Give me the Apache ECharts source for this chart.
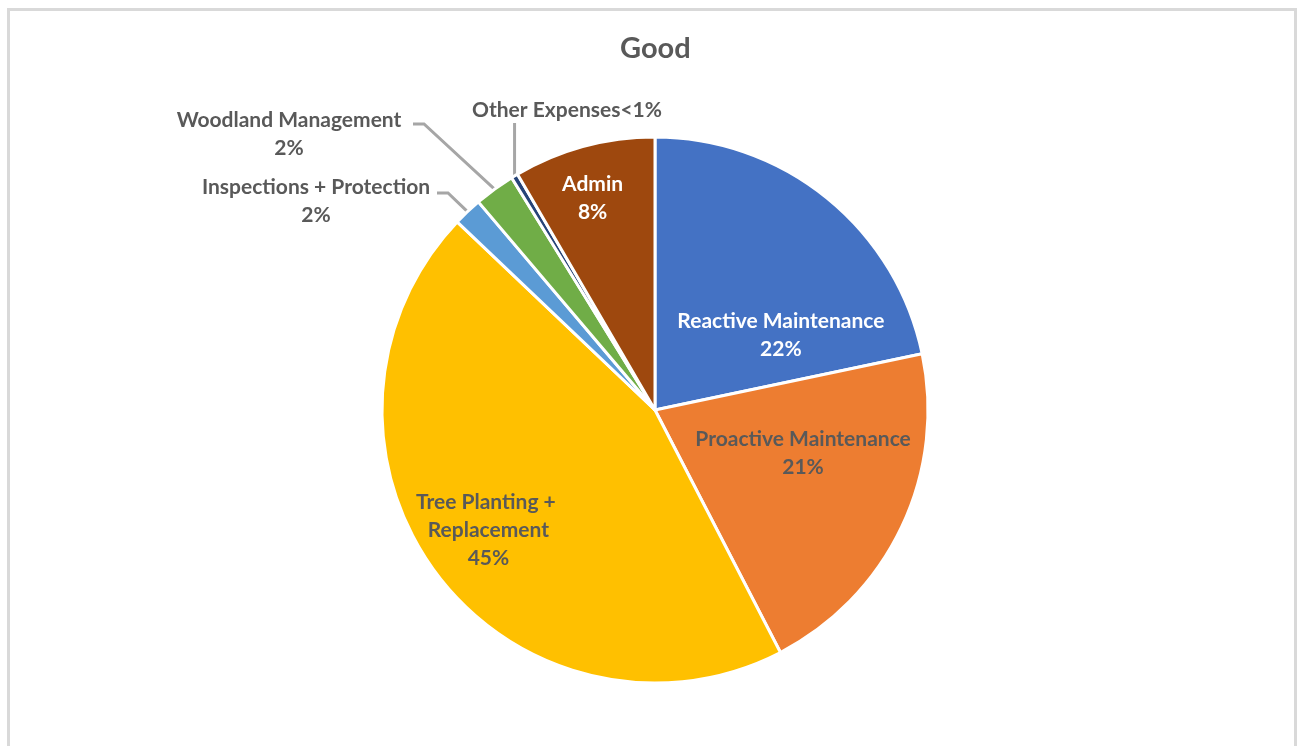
<!DOCTYPE html>
<html>
<head>
<meta charset="utf-8">
<script src="https://cdn.jsdelivr.net/npm/echarts@6/dist/echarts.min.js"></script>
<style>
  html, body { margin: 0; padding: 0; background: #fff; }
  #frame {
    position: absolute; left: 7px; top: 8px; width: 1290px; height: 760px;
    border: 3px solid #d9d9d9; box-sizing: border-box;
  }
  #chart { position: absolute; left: 0; top: 0; width: 1304px; height: 746px; }
</style>
</head>
<body>
<div id="frame"></div>
<div id="chart"></div>
<script>
// share of spend, percent
var categories = [
  'Reactive Maintenance',
  'Proactive Maintenance',
  'Tree Planting + Replacement',
  'Inspections + Protection',
  'Woodland Management',
  'Other Expenses',
  'Admin'
]
var shares = [21.7, 20.7, 44.7, 1.7, 2.4, 0.4, 8.4]
var colors = ['#4472C4', '#ED7D31', '#FFC000', '#5B9BD5', '#70AD47', '#264478', '#9E480E']

var font = 'Lato, "Open Sans", sans-serif'
var grey = '#595959'

function pct(v) {
  return v < 1 ? '<1%' : Math.round(v) + '%'
}

// label tweaks per slice (Excel places them a bit off the bisector)
var insideLabels = {
  0: { color: '#fff', offset: [38, 34] },
  1: { color: grey, offset: [22, -17] },
  2: { color: grey, offset: [-55, 36], width: 175, overflow: 'break' },
  6: { color: '#fff', offset: [-26, -77] }
}
// outside labels: label centre plus the elbow / end of its leader line
var outsideSpots = {
  3: { x: 316, y: 201, elbow: [448, 193], end: [437, 193] },
  4: { x: 289, y: 134, elbow: [424, 124], end: [413, 124] },
  5: { x: 567, y: 110, elbow: null, end: null }
}

var chart = echarts.init(document.getElementById('chart'))

var seriesData = categories.map(function (name, i) {
  var item = { name: name, value: shares[i], itemStyle: { color: colors[i] } }
  if (insideLabels[i]) {
    item.label = Object.assign({ position: 'inside' }, insideLabels[i])
    item.labelLine = { show: false }
  } else {
    item.label = { position: 'outside', color: grey }
    item.labelLine = { show: true, length: 28, length2: 10, lineStyle: { color: '#a6a6a6', width: 3 } }
  }
  return item
})

chart.setOption({
  animation: false,
  title: {
    text: 'Good',
    left: 615,
    top: 29,
    textStyle: { fontFamily: font, fontSize: 29, fontWeight: 'bold', color: grey }
  },
  series: [
    {
      type: 'pie',
      center: [655, 410],
      radius: [0, 273],
      startAngle: 90,
      clockwise: true,
      avoidLabelOverlap: false,
      itemStyle: { borderColor: '#fff', borderWidth: 3 },
      label: {
        show: true,
        fontFamily: font,
        fontSize: 21,
        fontWeight: 'bold',
        lineHeight: 28,
        align: 'center',
        formatter: function (p) {
          if (p.value < 1) return p.name + pct(p.value)
          return p.name + '\n' + pct(p.value)
        }
      },
      labelLayout: function (p) {
        var s = outsideSpots[p.dataIndex]
        if (!s) return {}
        var out = { x: s.x, y: s.y, align: 'center', verticalAlign: 'middle' }
        if (p.labelLinePoints) {
          var a = p.labelLinePoints[0]
          if (s.elbow) {
            out.labelLinePoints = [[a[0], a[1]], s.elbow, s.end]
          } else {
            // the tiny slice gets a straight vertical leader up to its label
            out.labelLinePoints = [[a[0], a[1]], [a[0], s.y + 13], [a[0], s.y + 13]]
          }
        }
        return out
      },
      emphasis: { disabled: true },
      data: seriesData
    }
  ]
})
</script>
</body>
</html>
